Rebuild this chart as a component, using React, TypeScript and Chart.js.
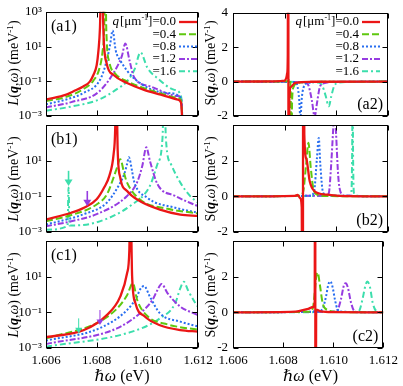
import React, { useEffect, useRef } from 'react';
import { Chart, registerables } from 'chart.js';

Chart.register(...registerables);

type Pts = [number, number][];

// ---------- categories / ticks ----------
const qValues = ['0.0', '0.4', '0.8', '1.2', '1.6'];
const xTickValues = [1.606, 1.608, 1.61, 1.612];
const xTickLabels = ['1.606', '1.608', '1.610', '1.612'];
const logTickValues = [1e-3, 1e-1, 1e1, 1e3];
const logTickLabels = ['10⁻³', '10⁻¹', '10¹', '10³'];
const linTickValues = [-2, 0, 2, 4];
const linTickLabels = ['-2', '0', '2', '4'];

// ---------- (a1) L(q,w) ----------
const a1Q00: Pts = [[1.606, 8.9e-3], [1.6068, 1.7e-2], [1.60707, 2.6e-2], [1.60747, 5.0e-2], [1.60773, 9.5e-2], [1.60787, 0.23], [1.608, 0.83], [1.60807, 5.8], [1.60813, 120], [1.6082, 1e6], [1.60827, 50], [1.6084, 1.0], [1.60867, 0.23], [1.6092, 0.079], [1.60987, 0.032], [1.61053, 0.017], [1.6112, 0.0089], [1.61133, 0.0059], [1.61145, 1e-5], [1.612, 1e-5]];
const a1Q04: Pts = [[1.606, 7.2e-3], [1.6068, 1.26e-2], [1.60747, 3.5e-2], [1.60787, 0.11], [1.6081, 0.5], [1.60823, 5], [1.6083, 160], [1.60834, 1e6], [1.60838, 100], [1.6085, 1.26], [1.60873, 0.28], [1.6092, 0.1], [1.60987, 0.04], [1.61053, 0.02], [1.6112, 0.011], [1.61133, 0.008], [1.61145, 1e-5], [1.612, 1e-5]];
const a1Q08: Pts = [[1.606, 4.7e-3], [1.6068, 9e-3], [1.60747, 0.021], [1.60813, 0.12], [1.6084, 1.6], [1.60853, 13], [1.60863, 83], [1.60875, 6], [1.60893, 1.6], [1.60947, 0.15], [1.6108, 0.021], [1.61133, 0.011], [1.61145, 1e-5], [1.612, 1e-5]];
const a1Q12: Pts = [[1.606, 3.1e-3], [1.607, 6.3e-3], [1.6081, 2.6e-2], [1.6088, 0.66], [1.609, 3], [1.60913, 15], [1.6093, 1.5], [1.60947, 0.18], [1.61013, 0.05], [1.6112, 0.014], [1.61133, 0.011], [1.61145, 1e-5], [1.612, 1e-5]];
const a1Q16: Pts = [[1.606, 2e-3], [1.607, 3.5e-3], [1.6081, 8.9e-3], [1.6088, 0.035], [1.6092, 0.1], [1.6095, 0.5], [1.60973, 4.6], [1.61, 0.6], [1.6104, 0.15], [1.61107, 0.032], [1.61133, 0.014], [1.61145, 1e-5], [1.612, 1e-5]];

// ---------- (a2) S(q,w) ----------
const a2Q00: Pts = [[1.606, 0], [1.6076, 0.01], [1.608, 0.05], [1.60806, 0.2], [1.6081, 0.5], [1.60812, 1.5], [1.60814, 20], [1.60815, -20], [1.60818, -1.0], [1.60825, -0.3], [1.6084, -0.08], [1.609, -0.01], [1.612, 0]];
const a2Q04: Pts = [[1.606, 0], [1.6081, 0.02], [1.6082, 0.15], [1.60823, -0.5], [1.60826, -4], [1.60829, -1.0], [1.60835, -0.3], [1.6085, -0.08], [1.609, -0.02], [1.612, 0]];
const a2Q08: Pts = [[1.606, 0], [1.6084, -0.03], [1.6085, -0.3], [1.60856, -1.0], [1.60861, -2.2], [1.60866, -1.0], [1.60873, -0.35], [1.6089, -0.08], [1.6095, -0.01], [1.612, 0]];
const a2Q12: Pts = [[1.606, 0], [1.6088, -0.05], [1.60892, -0.22], [1.60905, -1.07], [1.60916, -2.05], [1.60925, -1.26], [1.60936, -0.32], [1.60951, -0.1], [1.61, -0.02], [1.612, 0]];
const a2Q16: Pts = [[1.606, 0], [1.6093, -0.05], [1.60945, -0.22], [1.60958, -0.79], [1.60971, -1.44], [1.6098, -0.88], [1.60991, -0.28], [1.61004, -0.08], [1.6106, -0.02], [1.612, 0]];

// ---------- (b1) L(q,w) ----------
const b1Q00: Pts = [[1.606, 5e-3], [1.607, 0.012], [1.6075, 0.023], [1.608, 0.068], [1.6083, 0.32], [1.6085, 1.4], [1.60867, 24], [1.60873, 500], [1.60877, 1e6], [1.60883, 37], [1.60893, 1.15], [1.6092, 0.2], [1.6097, 0.055], [1.6105, 0.018], [1.6113, 0.0095], [1.612, 0.008]];
const b1Q04: Pts = [[1.606, 4e-3], [1.607, 8.9e-3], [1.608, 0.035], [1.6084, 0.126], [1.60867, 1.15], [1.6088, 4], [1.60893, 12], [1.6091, 1.6], [1.6092, 0.59], [1.6097, 0.068], [1.6108, 0.02], [1.612, 0.011]];
const b1Q08: Pts = [[1.606, 2.6e-3], [1.6075, 0.01], [1.6084, 0.044], [1.6089, 0.48], [1.6091, 2], [1.6092, 6.5], [1.60927, 15.5], [1.6094, 2.5], [1.60947, 0.74], [1.61, 0.083], [1.6111, 0.023], [1.612, 0.012]];
const b1Q12: Pts = [[1.606, 2.1e-3], [1.607, 4e-3], [1.608, 0.01], [1.6092, 0.105], [1.6096, 0.63], [1.6098, 5], [1.60996, 56], [1.6101, 10], [1.6104, 0.48], [1.6111, 0.105], [1.612, 0.028]];
const b1Q16: Pts = [[1.606, 1.35e-3], [1.60685, 2.2e-3], [1.60689, 0.31], [1.60693, 2.3e-3], [1.608, 3.5e-3], [1.6094, 0.035], [1.6101, 0.38], [1.6104, 6.5], [1.6106, 200], [1.61067, 1e6], [1.61073, 200], [1.61093, 6.5], [1.6113, 0.59], [1.6117, 0.1], [1.612, 0.044]];
const b1ArrowX = [1.60689, 1.60763];
const b1ArrowFrom = [2.7, 0.2];
const b1ArrowTo = [0.38, 0.028];

// ---------- (b2) S(q,w) ----------
const b2Q00: Pts = [[1.606, 0], [1.6084, 0.03], [1.6085, 0.08], [1.6086, -0.1], [1.60866, -0.6], [1.6087, -20], [1.60872, 20], [1.60876, 3.5], [1.60884, 2.1], [1.60897, 0.84], [1.60916, 0.28], [1.60962, 0.1], [1.6101, 0.03], [1.612, 0]];
const b2Q04: Pts = [[1.606, 0], [1.6086, 0.03], [1.60872, 0.28], [1.60883, 1.78], [1.60892, 3.0], [1.60901, 1.6], [1.60912, 0.37], [1.60925, 0.1], [1.6096, 0.02], [1.612, 0]];
const b2Q08: Pts = [[1.606, 0], [1.609, 0.03], [1.60914, 0.28], [1.60925, 2.15], [1.60932, 3.27], [1.60938, 1.78], [1.60949, 0.19], [1.6097, 0.05], [1.612, 0]];
const b2Q12: Pts = [[1.606, 0], [1.6096, 0.04], [1.60971, 0.19], [1.6098, 1.78], [1.60988, 3.8], [1.60993, 5], [1.60999, 3.5], [1.61007, 1.2], [1.61016, 0.25], [1.6103, 0.05], [1.612, 0]];
const b2Q16: Pts = [[1.606, 0], [1.6105, 0.03], [1.61058, 0.2], [1.61061, 2], [1.61063, 6], [1.61065, 2], [1.61068, 0.2], [1.6108, 0.03], [1.612, 0]];

// ---------- (c1) L(q,w) ----------
const c1Q00: Pts = [[1.606, 4e-3], [1.6075, 0.0102], [1.6084, 0.07], [1.60893, 0.76], [1.6092, 15.5], [1.60929, 316], [1.60933, 1e6], [1.6094, 10], [1.60953, 0.32], [1.6099, 0.058], [1.6105, 0.019], [1.6113, 0.0102], [1.612, 0.0083]];
const c1Q04: Pts = [[1.606, 3.5e-3], [1.608, 0.025], [1.6088, 0.16], [1.6092, 0.9], [1.60943, 4.3], [1.6096, 0.49], [1.61, 0.062], [1.6108, 0.021], [1.612, 0.0105]];
const c1Q08: Pts = [[1.606, 2.6e-3], [1.6081, 0.0126], [1.6092, 0.135], [1.6096, 0.8], [1.6097, 1.8], [1.60987, 3], [1.6101, 0.76], [1.6105, 0.087], [1.6113, 0.03], [1.612, 0.016]];
const c1Q12: Pts = [[1.606, 1.66e-3], [1.6088, 0.0126], [1.6097, 0.087], [1.6102, 0.49], [1.6104, 1.8], [1.61056, 3.9], [1.6108, 1.17], [1.6113, 0.21], [1.612, 0.07]];
const c1Q16: Pts = [[1.606, 1.17e-3], [1.6094, 8.3e-3], [1.6105, 0.046], [1.6111, 0.32], [1.6113, 2.2], [1.61144, 5.2], [1.6116, 1.8], [1.6119, 0.32], [1.612, 0.2]];
const c1ArrowX = [1.60729, 1.60813];
const c1ArrowFrom = [0.046, 0.135];
const c1ArrowTo = [0.0066, 0.0195];

// ---------- (c2) S(q,w) ----------
const c2Q00: Pts = [[1.606, 0], [1.6085, 0.04], [1.609, 0.2], [1.6092, 0.3], [1.60926, 0.6], [1.60928, 20], [1.60929, -20], [1.60932, 0.15], [1.6095, 0.05], [1.61, 0.01], [1.612, 0]];
const c2Q04: Pts = [[1.606, 0], [1.609, 0.03], [1.60918, 0.2], [1.60924, 0.8], [1.60932, 2.0], [1.60938, 2.23], [1.60946, 1.6], [1.60958, 0.5], [1.60978, 0.13], [1.6101, 0.03], [1.612, 0]];
const c2Q08: Pts = [[1.606, 0], [1.6094, 0.05], [1.60958, 0.22], [1.60971, 0.88], [1.6098, 1.54], [1.60988, 1.73], [1.60997, 1.44], [1.61007, 0.69], [1.61017, 0.17], [1.6103, 0.04], [1.612, 0]];
const c2Q12: Pts = [[1.606, 0], [1.61, 0.04], [1.61017, 0.13], [1.6103, 0.69], [1.61043, 1.54], [1.6105, 1.63], [1.61059, 1.35], [1.6107, 0.6], [1.61083, 0.09], [1.611, 0.02], [1.612, 0]];
const c2Q16: Pts = [[1.606, 0], [1.6108, 0.02], [1.61103, 0.09], [1.61116, 0.69], [1.61129, 1.54], [1.61136, 1.73], [1.61146, 1.44], [1.61158, 0.5], [1.61171, 0.08], [1.6119, 0.01], [1.612, 0]];

// ---------- styling / layout ----------
const W = 403;
const H = 386;
const Y_W = 40;
const X_H = 22;
const FONT = '"Liberation Serif", "DejaVu Serif", "Times New Roman", serif';

const STYLES = [
  { color: 'rgb(235,22,22)', width: 2.3, dash: [] as number[] },
  { color: 'rgb(95,200,15)', width: 2, dash: [7, 3] },
  { color: 'rgb(40,110,240)', width: 2, dash: [2, 2] },
  { color: 'rgb(150,60,225)', width: 2, dash: [6, 2, 2, 2] },
  { color: 'rgb(60,222,172)', width: 2, dash: [6, 3, 2, 3] },
];

interface Arrows { x: number[]; from: number[]; to: number[]; idx: number[]; width: number; head: number }
interface PanelCfg {
  name: string;
  kind: 'L' | 'S';
  box: { left: number; right: number; top: number; bottom: number };
  showX: boolean;
  showTop: boolean;
  corner: 'tl' | 'br';
  legend?: { textRight: number; top: number; step: number };
  series: Pts[];
  arrows?: Arrows;
}

const LEFT = { left: 46, right: 198 };
const RIGHT = { left: 233, right: 388 };
const ROW_A = { top: 10, bottom: 116 };
const ROW_B = { top: 125, bottom: 232 };
const ROW_C = { top: 241, bottom: 348 };

const PANELS: PanelCfg[] = [
  { name: 'a1', kind: 'L', box: { ...LEFT, ...ROW_A }, showX: false, showTop: true, corner: 'tl', legend: { textRight: 176, top: 22, step: 12.3 }, series: [a1Q00, a1Q04, a1Q08, a1Q12, a1Q16] },
  { name: 'a2', kind: 'S', box: { ...RIGHT, ...ROW_A }, showX: false, showTop: true, corner: 'br', legend: { textRight: 359, top: 22, step: 12.3 }, series: [a2Q00, a2Q04, a2Q08, a2Q12, a2Q16] },
  { name: 'b1', kind: 'L', box: { ...LEFT, ...ROW_B }, showX: false, showTop: false, corner: 'tl', series: [b1Q00, b1Q04, b1Q08, b1Q12, b1Q16], arrows: { x: b1ArrowX, from: b1ArrowFrom, to: b1ArrowTo, idx: [4, 3], width: 1.6, head: 4 } },
  { name: 'b2', kind: 'S', box: { ...RIGHT, ...ROW_B }, showX: false, showTop: false, corner: 'br', series: [b2Q00, b2Q04, b2Q08, b2Q12, b2Q16] },
  { name: 'c1', kind: 'L', box: { ...LEFT, ...ROW_C }, showX: true, showTop: false, corner: 'tl', series: [c1Q00, c1Q04, c1Q08, c1Q12, c1Q16], arrows: { x: c1ArrowX, from: c1ArrowFrom, to: c1ArrowTo, idx: [4, 3], width: 1, head: 3.5 } },
  { name: 'c2', kind: 'S', box: { ...RIGHT, ...ROW_C }, showX: true, showTop: false, corner: 'br', series: [c2Q00, c2Q04, c2Q08, c2Q12, c2Q16] },
];

function makePanelPlugin(cfg: PanelCfg) {
  return {
    id: 'panel_' + cfg.name,
    afterDatasetsDraw(chart: any) {
      const ctx: CanvasRenderingContext2D = chart.ctx;
      const { left, right, top, bottom } = chart.chartArea;
      const xs = chart.scales.x;
      const ys = chart.scales.y;
      ctx.save();

      // arrows
      if (cfg.arrows) {
        const a = cfg.arrows;
        a.x.forEach((xv, k) => {
          const col = STYLES[a.idx[k]].color;
          const px = xs.getPixelForValue(xv);
          const p1 = ys.getPixelForValue(a.from[k]);
          const p2 = ys.getPixelForValue(a.to[k]);
          ctx.strokeStyle = col;
          ctx.fillStyle = col;
          ctx.lineWidth = a.width;
          ctx.setLineDash([]);
          ctx.beginPath();
          ctx.moveTo(px, p1);
          ctx.lineTo(px, p2 - a.head * 1.2);
          ctx.stroke();
          ctx.beginPath();
          ctx.moveTo(px - a.head, p2 - a.head * 1.6);
          ctx.lineTo(px + a.head, p2 - a.head * 1.6);
          ctx.lineTo(px, p2);
          ctx.closePath();
          ctx.fill();
        });
      }

      // frame
      ctx.setLineDash([]);
      ctx.strokeStyle = '#000';
      ctx.lineWidth = 1;
      const L0 = Math.round(left) + 0.5;
      const T0 = Math.round(top) + 0.5;
      const R0 = Math.round(right) - 0.5;
      const B0 = Math.round(bottom) - 0.5;
      ctx.strokeRect(L0, T0, R0 - L0, B0 - T0);

      // inward ticks on all four sides
      const tl = 5;
      ctx.beginPath();
      xTickValues.forEach((v) => {
        const px = Math.round(xs.getPixelForValue(v)) + 0.5;
        ctx.moveTo(px, B0);
        ctx.lineTo(px, B0 - tl);
        ctx.moveTo(px, T0);
        ctx.lineTo(px, T0 + tl);
      });
      const yVals = cfg.kind === 'L' ? logTickValues : linTickValues;
      yVals.forEach((v) => {
        const py = Math.round(ys.getPixelForValue(v)) + 0.5;
        ctx.moveTo(L0, py);
        ctx.lineTo(L0 + tl, py);
        ctx.moveTo(R0, py);
        ctx.lineTo(R0 - tl, py);
      });
      ctx.stroke();

      // panel label
      ctx.fillStyle = '#000';
      ctx.font = `16px ${FONT}`;
      ctx.textBaseline = 'middle';
      if (cfg.corner === 'tl') {
        ctx.textAlign = 'left';
        ctx.fillText(`(${cfg.name})`, left + 5, top + 15);
      } else {
        ctx.textAlign = 'right';
        ctx.fillText(`(${cfg.name})`, right - 5, bottom - 11);
      }

      // legend
      if (cfg.legend) {
        const lg = cfg.legend;
        const fs = 13;
        chart.data.datasets.forEach((ds: any, i: number) => {
          const y = lg.top + i * lg.step;
          ctx.font = `${fs}px ${FONT}`;
          ctx.textAlign = 'right';
          ctx.textBaseline = 'middle';
          ctx.fillStyle = '#000';
          const t = '=' + qValues[i];
          ctx.fillText(t, lg.textRight, y);
          if (i === 0) {
            let xr = lg.textRight - ctx.measureText(t).width;
            ctx.fillText(']', xr, y);
            xr -= ctx.measureText(']').width;
            ctx.font = `${Math.round(fs * 0.62)}px ${FONT}`;
            ctx.fillText('-1', xr, y - 4);
            xr -= ctx.measureText('-1').width;
            ctx.font = `${fs}px ${FONT}`;
            ctx.fillText('[μm', xr, y);
            xr -= ctx.measureText('[μm').width;
            ctx.font = `italic ${fs}px ${FONT}`;
            ctx.fillText('q', xr - 1, y);
          }
          ctx.strokeStyle = ds.borderColor;
          ctx.lineWidth = ds.borderWidth;
          ctx.setLineDash(ds.borderDash || []);
          ctx.beginPath();
          ctx.moveTo(lg.textRight + 3, y);
          ctx.lineTo(lg.textRight + 21, y);
          ctx.stroke();
        });
      }
      ctx.restore();
    },
  };
}

function buildConfig(cfg: PanelCfg): any {
  const isL = cfg.kind === 'L';
  const tickFont = { size: 13, family: FONT };
  const yCommon = {
    afterFit: (s: any) => { s.width = Y_W; },
    grid: { display: false, drawTicks: false },
    border: { display: false },
  };
  return {
    type: 'line',
    data: {
      datasets: cfg.series.map((pts, i) => ({
        label: 'q=' + qValues[i],
        data: pts.map(([x, y]) => ({ x, y })),
        borderColor: STYLES[i].color,
        borderWidth: STYLES[i].width,
        borderDash: STYLES[i].dash,
        pointRadius: 0,
        fill: false,
        cubicInterpolationMode: 'monotone',
        clip: 0,
      })),
    },
    options: {
      animation: false,
      responsive: false,
      devicePixelRatio: 1,
      events: [],
      layout: {
        padding: {
          left: cfg.box.left - Y_W,
          right: W - cfg.box.right,
          top: cfg.box.top,
          bottom: H - cfg.box.bottom - (cfg.showX ? X_H : 0),
        },
      },
      plugins: { legend: { display: false }, tooltip: { enabled: false } },
      scales: {
        x: {
          type: 'linear',
          min: 1.606,
          max: 1.612,
          afterBuildTicks: (s: any) => { s.ticks = xTickValues.map((v) => ({ value: v })); },
          afterFit: (s: any) => { s.height = cfg.showX ? X_H : 0; },
          ticks: {
            display: cfg.showX,
            autoSkip: false,
            maxRotation: 0,
            minRotation: 0,
            padding: 5,
            color: '#000',
            font: tickFont,
            callback: (_v: any, i: number) => xTickLabels[i],
          },
          grid: { display: false, drawTicks: false },
          border: { display: false },
        },
        y: isL
          ? {
              ...yCommon,
              type: 'logarithmic',
              min: 1e-3,
              max: 1e3,
              afterBuildTicks: (s: any) => { s.ticks = logTickValues.map((v) => ({ value: v })); },
              ticks: {
                autoSkip: false,
                padding: 4,
                color: '#000',
                font: tickFont,
                callback: (_v: any, i: number) => (i === logTickValues.length - 1 && !cfg.showTop ? '' : logTickLabels[i]),
              },
            }
          : {
              ...yCommon,
              type: 'linear',
              min: -2,
              max: 4,
              afterBuildTicks: (s: any) => { s.ticks = linTickValues.map((v) => ({ value: v })); },
              ticks: {
                autoSkip: false,
                padding: 5,
                color: '#000',
                font: tickFont,
                callback: (_v: any, i: number) => (i === linTickValues.length - 1 && !cfg.showTop ? '' : linTickLabels[i]),
              },
            },
      },
    },
    plugins: [makePanelPlugin(cfg)],
  };
}

function Panel({ cfg }: { cfg: PanelCfg }) {
  const ref = useRef<HTMLCanvasElement>(null);
  useEffect(() => {
    const c = ref.current;
    if (!c) return;
    const chart = new Chart(c, buildConfig(cfg));
    return () => chart.destroy();
  }, [cfg]);
  return (
    <canvas
      ref={ref}
      width={W}
      height={H}
      style={{ position: 'absolute', left: 0, top: 0, width: W, height: H, pointerEvents: 'none' }}
    />
  );
}

const titleBase: React.CSSProperties = {
  position: 'absolute',
  whiteSpace: 'nowrap',
  fontFamily: FONT,
  fontSize: 14,
  lineHeight: 1,
  color: '#000',
};

function YTitle({ cx, cy, kind }: { cx: number; cy: number; kind: 'L' | 'S' }) {
  return (
    <div style={{ ...titleBase, left: cx, top: cy, transform: 'translate(-50%,-50%) rotate(-90deg)' }}>
      {kind === 'L' ? <i>L</i> : <span>S</span>}(<b><i>q</i></b>,<i>ω</i>) (meV<sup style={{ fontSize: '0.65em', verticalAlign: '0.5em', lineHeight: 0 }}>-1</sup>)
    </div>
  );
}

function XTitle({ cx, cy }: { cx: number; cy: number }) {
  return (
    <div style={{ ...titleBase, fontSize: 16, left: cx, top: cy, transform: 'translate(-50%,-50%)' }}>
      <i>ℏω</i> (eV)
    </div>
  );
}

export default function App() {
  const rowCenters = [ROW_A, ROW_B, ROW_C].map((r) => (r.top + r.bottom) / 2);
  return (
    <div style={{ position: 'absolute', left: 0, top: 0, width: W, height: H, background: '#fff', overflow: 'hidden' }}>
      {PANELS.map((p) => (
        <Panel key={p.name} cfg={p} />
      ))}
      {rowCenters.map((cy, i) => (
        <React.Fragment key={i}>
          <YTitle cx={14} cy={cy} kind="L" />
          <YTitle cx={211} cy={cy} kind="S" />
        </React.Fragment>
      ))}
      <XTitle cx={(LEFT.left + LEFT.right) / 2} cy={376} />
      <XTitle cx={(RIGHT.left + RIGHT.right) / 2} cy={376} />
    </div>
  );
}
